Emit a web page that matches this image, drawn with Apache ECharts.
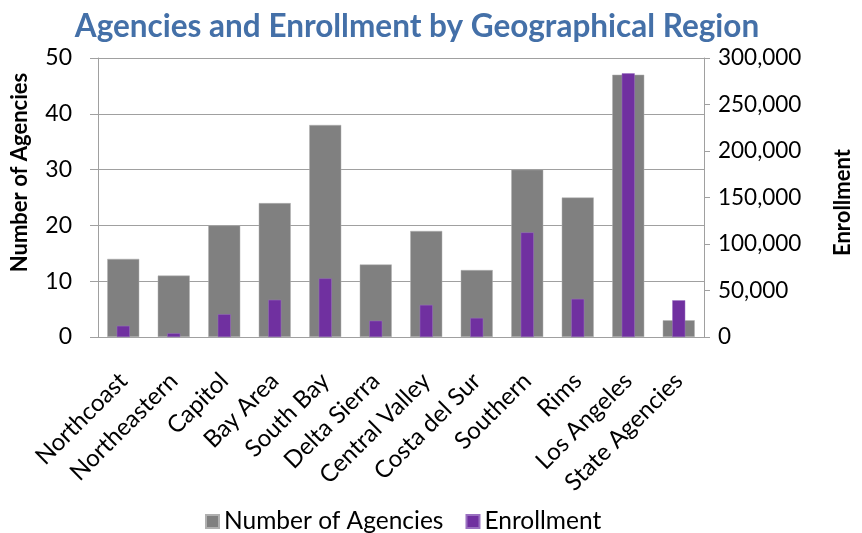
<!DOCTYPE html>
<html>
<head>
<meta charset="utf-8">
<script src="https://cdn.jsdelivr.net/npm/echarts@6/dist/echarts.min.js"></script>
<style>
  html, body { margin: 0; padding: 0; background: #fff; }
  #chart { width: 862px; height: 533px; }
</style>
</head>
<body>
<div id="chart"></div>
<script>
// Regions along the category axis
const regions = ['Northcoast', 'Northeastern', 'Capitol', 'Bay Area', 'South Bay', 'Delta Sierra',
  'Central Valley', 'Costa del Sur', 'Southern', 'Rims', 'Los Angeles', 'State Agencies'];
// Number of agencies per region (left axis)
const agencies = [14, 11, 20, 24, 38, 13, 19, 12, 30, 25, 47, 3];
// Enrollment per region (right axis)
const enrollment = [12000, 4000, 24500, 40000, 63000, 17500, 34500, 20500, 112500, 41000, 283500, 39500];

const FONT = 'Lato';
const axisGray = '#A0A0A0';

const chart = echarts.init(document.getElementById('chart'), null, { renderer: 'canvas' });
chart.setOption({
  animation: false,
  backgroundColor: '#fff',
  textStyle: { fontFamily: FONT, color: '#000' },
  title: {
    text: 'Agencies and Enrollment by Geographical Region',
    left: 412, top: 6, textAlign: 'center',
    textStyle: { fontFamily: FONT, fontSize: 31.5, fontWeight: 'bold', color: '#4470A8' }
  },
  legend: {
    bottom: -6, left: 200,
    icon: 'rect', itemWidth: 13, itemHeight: 13, itemGap: 22,
    textStyle: { fontFamily: FONT, fontSize: 24.5, color: '#000' },
    data: ['Number of Agencies', 'Enrollment']
  },
  grid: { left: 98, right: 158, top: 58, bottom: 196, containLabel: false, outerBoundsMode: 'none' },
  xAxis: [
    {
      type: 'category', data: regions,
      axisLine: { lineStyle: { color: axisGray } },
      axisTick: { alignWithLabel: false, length: 8, lineStyle: { color: axisGray } },
      axisLabel: { rotate: 45, fontSize: 24, margin: 40, color: '#000', fontFamily: FONT, interval: 0 }
    },
    {
      type: 'category', data: regions, position: 'bottom', show: false
    }
  ],
  yAxis: [
    {
      type: 'value', min: 0, max: 50, interval: 10,
      name: 'Number of Agencies', nameLocation: 'middle', nameGap: 67, nameRotate: 90,
      nameTextStyle: { fontFamily: FONT, fontSize: 22, fontWeight: 'bold', color: '#000', padding: [0, 0, 0, 50] },
      axisLine: { show: true, lineStyle: { color: axisGray } },
      axisTick: { show: true, length: 8, lineStyle: { color: axisGray } },
      axisLabel: { fontSize: 23, margin: 26, color: '#000', fontFamily: FONT },
      splitLine: { lineStyle: { color: axisGray, width: 1 } }
    },
    {
      type: 'value', min: 0, max: 300000, interval: 50000, position: 'right',
      name: 'Enrollment', nameLocation: 'middle', nameGap: 128, nameRotate: 90,
      nameTextStyle: { fontFamily: FONT, fontSize: 22, fontWeight: 'bold', color: '#000', padding: [0, 10, 0, 0] },
      axisLine: { show: true, lineStyle: { color: axisGray } },
      axisTick: { show: true, length: 6, lineStyle: { color: axisGray } },
      axisLabel: {
        fontSize: 22.5, margin: 14, color: '#000', fontFamily: FONT,
        formatter: v => v.toLocaleString('en-US')
      },
      splitLine: { show: false }
    }
  ],
  series: [
    {
      name: 'Number of Agencies', type: 'bar', xAxisIndex: 0, yAxisIndex: 0,
      data: agencies, barWidth: 32,
      itemStyle: { color: '#808080', borderColor: '#B0B0B0', borderWidth: 0.5 }
    },
    {
      name: 'Enrollment', type: 'bar', xAxisIndex: 1, yAxisIndex: 1,
      data: enrollment, barWidth: 13,
      itemStyle: { color: '#7030A0', borderColor: '#9A70C0', borderWidth: 0.5 }
    }
  ]
});
</script>
</body>
</html>
